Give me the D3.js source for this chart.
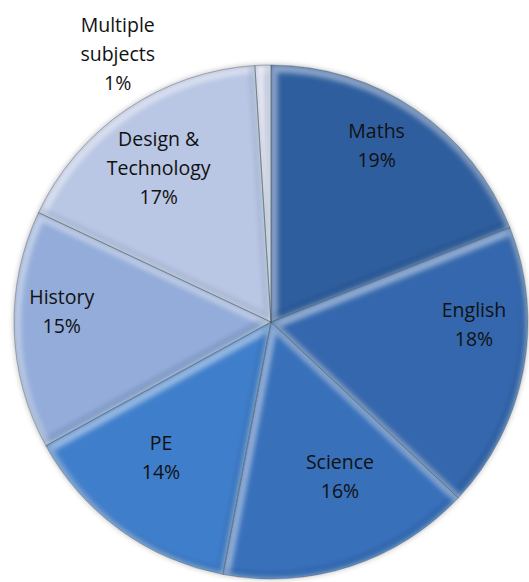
<!DOCTYPE html>
<html>
<head>
<meta charset="utf-8">
<script src="https://cdn.jsdelivr.net/npm/d3@7"></script>
<style>
  html, body { margin: 0; padding: 0; background: #ffffff; }
  svg { display: block; }
  .lbl { font-family: "Open Sans", "DejaVu Sans", sans-serif; font-size: 19.5px; fill: #111111; }
</style>
</head>
<body>
<div id="chart"></div>
<script>
// data
var subjects = ["Maths", "English", "Science", "PE", "History", "Design & Technology", "Multiple subjects"];
var shares = [19, 18, 16, 14, 15, 17, 1];
var labelLines = [["Maths"], ["English"], ["Science"], ["PE"], ["History"], ["Design &", "Technology"], ["Multiple", "subjects"]];
var sliceColors = ["#2f5e9e", "#3467ad", "#3870ba", "#3f7ecb", "#93acd9", "#b9c6e4", "#d9ddee"];

// label placement (radius as fraction of r, angle shift from slice middle, degrees)
var labelRadius = [0.80, 0.79, 0.66, 0.68, 0.815, 0.74, 1.2];
var labelShift = [-3.3, -10, -6, 3, 4.5, -2, -28];

var width = 529, height = 582,
cx = 271, cy = 322, r = 257,
lineH = 29;

var svg = d3.select("#chart").append("svg")
.attr("width", width)
.attr("height", height);

var defs = svg.append("defs");

defs.append("filter").attr("id", "soft")
.attr("x", "-20%").attr("y", "-20%").attr("width", "140%").attr("height", "140%")
.append("feGaussianBlur").attr("stdDeviation", 2.5);

defs.append("filter").attr("id", "shadow")
.attr("x", "-20%").attr("y", "-20%").attr("width", "140%").attr("height", "140%")
.append("feGaussianBlur").attr("stdDeviation", 2.5);

var data = subjects.map(function(s, i) {
	return {name: s, value: shares[i], lines: labelLines[i], color: sliceColors[i], idx: i};
});

var pie = d3.pie()
.sort(null)
.value(function(d) { return d.value; });

var arcs = pie(data);

var arc = d3.arc().innerRadius(0).outerRadius(r);

var center = "translate(" + cx + "," + cy + ")";

// layers, bottom to top
var gHalo = svg.append("g").attr("transform", center);
var gSlices = svg.append("g");
var gSeams = svg.append("g").attr("transform", center);
var gLabels = svg.append("g").attr("transform", center);

// soft grey halo round the pie
gHalo.append("circle")
.attr("r", r + 1)
.attr("fill", "#9a9a9a")
.attr("opacity", 0.5)
.attr("filter", "url(#shadow)");

// clip paths, one per slice
defs.selectAll("clipPath.slice").data(arcs).enter()
.append("clipPath")
.attr("class", "slice")
.attr("id", function(d) { return "clip" + d.data.idx; })
.append("path")
.attr("transform", center)
.attr("d", arc);

var slices = gSlices.selectAll("g.slice").data(arcs).enter()
.append("g")
.attr("class", "slice")
.attr("clip-path", function(d) { return "url(#clip" + d.data.idx + ")"; });

slices.append("path")
.attr("transform", center)
.attr("d", arc)
.attr("fill", function(d) { return d.data.color; });

// bevel: light band on the upper edges, faint dark band on the lower ones
slices.append("path")
.attr("transform", "translate(" + (cx + 2) + "," + (cy + 3) + ")")
.attr("d", arc)
.attr("fill", "none")
.attr("stroke", "#ffffff")
.attr("stroke-opacity", 0.45)
.attr("stroke-width", 9)
.attr("stroke-linejoin", "round")
.attr("filter", "url(#soft)");

slices.append("path")
.attr("transform", "translate(" + (cx - 2) + "," + (cy - 3) + ")")
.attr("d", arc)
.attr("fill", "none")
.attr("stroke", "#0b2447")
.attr("stroke-opacity", 0.15)
.attr("stroke-width", 7)
.attr("stroke-linejoin", "round")
.attr("filter", "url(#soft)");

// thin seams between slices
gSeams.selectAll("path.seam").data(arcs).enter()
.append("path")
.attr("class", "seam")
.attr("d", arc)
.attr("fill", "none")
.attr("stroke", "#3c4858")
.attr("stroke-opacity", 0.45)
.attr("stroke-width", 0.8);

// labels
var labels = gLabels.selectAll("text.lbl").data(arcs).enter()
.append("text")
.attr("class", "lbl")
.attr("text-anchor", "middle")
.attr("transform", function(d) {
	var i = d.data.idx;
	var a = (d.startAngle + d.endAngle) / 2 + labelShift[i] * Math.PI / 180;
	var rr = labelRadius[i] * r;
	return "translate(" + (rr * Math.sin(a)) + "," + (-rr * Math.cos(a)) + ")";
});

labels.each(function(d) {
	var lines = d.data.lines.concat([d.data.value + "%"]);
	var t = d3.select(this);
	var y0 = -(lines.length - 1) * lineH / 2;
	lines.forEach(function(l, k) {
		t.append("tspan")
		.attr("x", 0)
		.attr("y", y0 + k * lineH)
		.attr("dy", "0.35em")
		.text(l);
	});
});
</script>
</body>
</html>
